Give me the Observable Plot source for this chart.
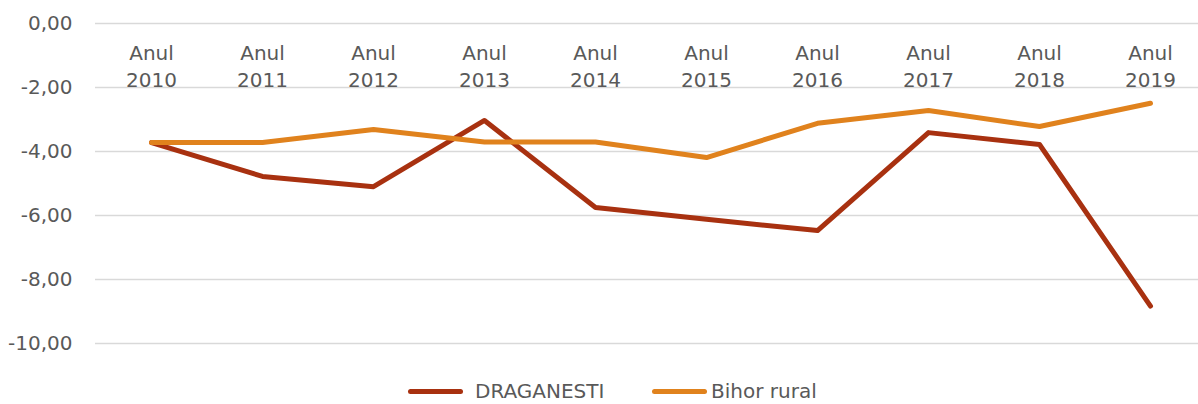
<!DOCTYPE html>
<html>
<head>
<meta charset="utf-8">
<script src="https://cdn.jsdelivr.net/npm/d3@7"></script>
<script src="https://cdn.jsdelivr.net/npm/@observablehq/plot@0.6"></script>
<style>
  html, body { margin: 0; padding: 0; background: #fff; }
  #wrap { width: 1198px; height: 404px; position: relative; font-family: "DejaVu Sans", sans-serif; color: #595959; }
  #legend { position: relative; width: 1198px; height: 26px; font-size: 20px; }
  .item { position: absolute; top: 0; height: 26px; display: flex; align-items: center; }
  .swatch { width: 55px; height: 5px; border-radius: 3px; }
  .lbl { line-height: 26px; white-space: nowrap; }
</style>
</head>
<body>
<div id="wrap">
  <div id="chart"></div>
  <div id="legend"></div>
</div>
<script>
const years = [2010, 2011, 2012, 2013, 2014, 2015, 2016, 2017, 2018, 2019];
const draganesti = [-3.72, -4.78, -5.10, -3.03, -5.75, -6.12, -6.47, -3.41, -3.78, -8.83];
const bihorRural = [-3.72, -3.72, -3.31, -3.70, -3.70, -4.19, -3.12, -2.72, -3.22, -2.49];
const seriesNames = ["DRAGANESTI", "Bihor rural"];
const seriesColors = ["#A83110", "#E0821D"];
const yTicks = [0, -2, -4, -6, -8, -10];

const rows = [];
years.forEach((yr, i) => {
  rows.push({year: yr, series: seriesNames[0], value: draganesti[i]});
  rows.push({year: yr, series: seriesNames[1], value: bihorRural[i]});
});

const fmt = d => d.toFixed(2).replace(".", ",");

const chart = Plot.plot({
  width: 1198,
  height: 378,
  marginLeft: 95,
  marginRight: 0,
  marginTop: 23,
  marginBottom: 35,
  style: { fontFamily: "DejaVu Sans, sans-serif", fontSize: "20px", color: "#595959", background: "#fff" },
  x: { type: "point", domain: years, range: [150, 1151], padding: 0, axis: null },
  y: { domain: [-10, 0], range: [343, 23], axis: null, label: null },
  color: { domain: seriesNames, range: seriesColors },
  marks: [
    Plot.ruleY(yTicks, { stroke: "#d9d9d9", strokeWidth: 1.5 }),
    Plot.axisY({ ticks: yTicks, tickSize: 0, tickPadding: 23, tickFormat: fmt, fill: "#595959", fontSize: 20, label: null }),
    Plot.text(years, { x: d => d, frameAnchor: "top", text: d => `Anul\n${d}`, lineAnchor: "top", dy: 17, lineHeight: 1.35, fill: "#595959", fontSize: 20 }),
    Plot.line(rows, { x: "year", y: "value", z: "series", stroke: "series", strokeWidth: 5, strokeLinecap: "round", strokeLinejoin: "round" })
  ]
});
document.getElementById("chart").appendChild(chart);

const legend = document.getElementById("legend");
const pos = [{sw: 408, tx: 475}, {sw: 652, tx: 711}];
seriesNames.forEach((name, i) => {
  const sw = document.createElement("div");
  sw.className = "item";
  sw.style.left = pos[i].sw + "px";
  sw.innerHTML = `<div class="swatch" style="background:${seriesColors[i]}"></div>`;
  legend.appendChild(sw);
  const tx = document.createElement("div");
  tx.className = "item";
  tx.style.left = pos[i].tx + "px";
  tx.innerHTML = `<span class="lbl">${name}</span>`;
  legend.appendChild(tx);
});
</script>
</body>
</html>
